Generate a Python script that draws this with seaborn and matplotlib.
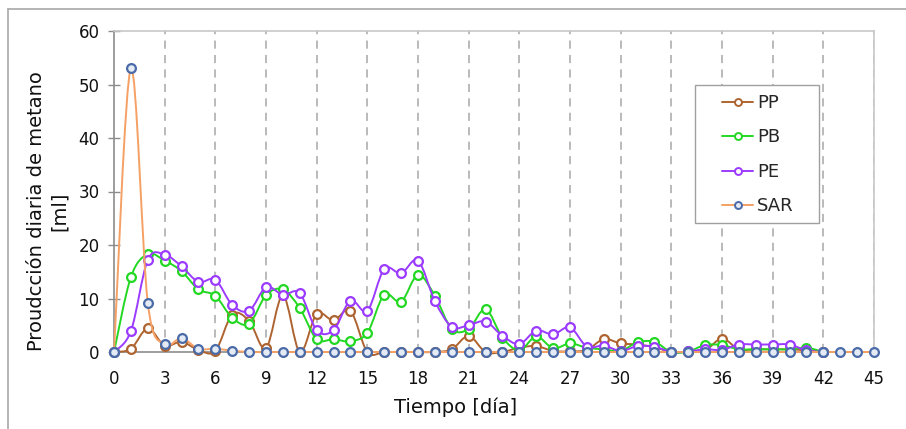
import numpy as np
import pandas as pd
import matplotlib
matplotlib.use("Agg")
import matplotlib.pyplot as plt
import seaborn as sns
from matplotlib.path import Path
from matplotlib.patches import PathPatch, Rectangle
from matplotlib.lines import Line2D

# ---------------- data ----------------
days_sar = list(range(0, 46))
days_p = list(range(0, 43))

pp = [0, 0.6, 4.4, 1.2, 1.9, 0.4, 0.2, 7.0, 5.8, 0.7, 10.6, 0, 7.1, 5.9, 7.7, 0,
      0, 0, 0, 0, 0.5, 3.0, 0, 0, 0.8, 1.1, 0.2, 0.1, 0.4, 2.4, 1.6, 1.4, 0.9, 0,
      0, 0.3, 2.5, 0.5, 0.5, 0.5, 0.5, 0.3, 0]
pb = [0, 14.0, 18.3, 17.1, 15.1, 11.7, 10.5, 6.4, 5.3, 10.6, 11.7, 8.2, 2.4, 2.4,
      2.0, 3.6, 10.7, 9.4, 14.4, 10.5, 4.3, 4.3, 8.0, 2.7, 0.3, 2.9, 0.7, 1.6, 0.8,
      0.5, 0.2, 1.8, 1.9, 0, 0.1, 1.3, 1.3, 0.5, 0.5, 0.5, 0.5, 0.8, 0]
pe = [0, 3.9, 17.2, 18.2, 16.0, 13.1, 13.5, 8.8, 7.7, 12.1, 10.7, 11.0, 4.1, 4.1,
      9.6, 7.7, 15.5, 14.7, 17.1, 9.5, 4.7, 5.0, 5.7, 3.0, 1.5, 4.0, 3.3, 4.6, 1.0,
      1.2, 0.2, 1.1, 1.0, 0, 0.1, 0.5, 0.4, 1.4, 1.4, 1.4, 1.4, 0.3, 0]
sar = [0, 53.0, 9.2, 1.5, 2.6, 0.6, 0.6, 0.25, 0] + [0] * 37

series_names = ["PP", "PB", "PE", "SAR"]
x_ticks = list(range(0, 46, 3))
y_ticks = list(range(0, 61, 10))

# styles
line_colors = {"PP": "#AE6430", "PB": "#22D822", "PE": "#9B3BFF", "SAR": "#F5A064"}
edge_colors = {"PP": "#AE6430", "PB": "#22D822", "PE": "#9B3BFF", "SAR": "#4A6BA8"}
face_colors = {"PP": "white", "PB": "white", "PE": "white", "SAR": "#E4EBF5"}

frames = []
for name, xs, ys in [("PP", days_p, pp), ("PB", days_p, pb),
                     ("PE", days_p, pe), ("SAR", days_sar, sar)]:
    frames.append(pd.DataFrame({"dia": xs, "valor": ys, "serie": name}))
df = pd.concat(frames, ignore_index=True)

# ---------------- figure ----------------
sns.set_theme(style="white")
plt.rcParams["font.family"] = ["DejaVu Sans"]

W, H = 906, 429
fig = plt.figure(figsize=(W / 100, H / 100), dpi=100)
ax = fig.add_axes([114 / W, 1 - 352 / H, (874 - 114) / W, (352 - 31) / H])


def smooth_path(xs, ys):
    """Excel-style smoothed line (Catmull-Rom as cubic Bezier) in data coords."""
    P = np.column_stack([xs, ys]).astype(float)
    n = len(P)
    verts = [P[0]]
    codes = [Path.MOVETO]
    for i in range(n - 1):
        p_prev = P[i - 1] if i > 0 else P[i]
        p_next2 = P[i + 2] if i + 2 < n else P[i + 1]
        c1 = P[i] + (P[i + 1] - p_prev) / 6.0
        c2 = P[i + 1] - (p_next2 - P[i]) / 6.0
        verts += [c1, c2, P[i + 1]]
        codes += [Path.CURVE4] * 3
    return Path(verts, codes)


for k, name in enumerate(series_names):
    sub = df[df["serie"] == name]
    patch = PathPatch(smooth_path(sub["dia"].values, sub["valor"].values),
                      facecolor="none", edgecolor=line_colors[name],
                      linewidth=1.4, zorder=3 + 2 * k, clip_on=False)
    ax.add_patch(patch)
    sns.scatterplot(data=sub, x="dia", y="valor", ax=ax, marker="o", s=40,
                    facecolor=face_colors[name], edgecolor=edge_colors[name],
                    linewidth=1.6, zorder=4 + 2 * k, legend=False, clip_on=False)

ax.set_xlim(0, 45)
ax.set_ylim(0, 60)
ax.set_xticks(x_ticks)
ax.set_yticks(y_ticks)
ax.set_xticklabels([str(t) for t in x_ticks])
ax.set_yticklabels([str(t) for t in y_ticks])
ax.set_xlabel("")
ax.set_ylabel("")

ax.tick_params(axis="x", length=0, pad=13, labelsize=12, colors="#111111")
ax.tick_params(axis="y", direction="inout", length=9, width=1, color="#8C8C8C",
               pad=6, labelsize=12, labelcolor="#111111", left=True)

# vertical dashed grid
for t in x_ticks[1:]:
    ax.axvline(t, color="#B4B4B4", linewidth=1.3, dashes=(4.5, 3.5), zorder=1)

for side in ["left", "bottom"]:
    ax.spines[side].set_color("#8C8C8C")
    ax.spines[side].set_linewidth(1.2)
for side in ["top", "right"]:
    ax.spines[side].set_color("#C8C8C8")
    ax.spines[side].set_linewidth(1.2)
ax.spines["bottom"].set_zorder(2)

# legend (frame drawn separately so inner padding can match)
fig.add_artist(Rectangle((695 / W, 1 - 223 / H), (819 - 695) / W, (223 - 85) / H,
                         transform=fig.transFigure, facecolor="white",
                         edgecolor="#A0A0A0", linewidth=1.0, zorder=19))
handles = [Line2D([0], [0], color=line_colors[n], linewidth=1.4, marker="o",
                  markersize=5, markerfacecolor=face_colors[n],
                  markeredgecolor=edge_colors[n], markeredgewidth=1.4)
           for n in series_names]
leg = fig.legend(handles, series_names, loc="upper left",
                 bbox_to_anchor=(722 / W, 1 - 94 / H),
                 bbox_transform=fig.transFigure, fontsize=13, frameon=False,
                 handlelength=1.72, handletextpad=0.22, labelspacing=0.91,
                 borderpad=0.0, borderaxespad=0.0)
leg.set_zorder(20)

# axis labels
fig.text(48 / W, 1 - 211 / H, "Proudcción diaria de metano\n[ml]", rotation=90,
         ha="center", va="center", multialignment="center", fontsize=14,
         color="#111111")
fig.text(456 / W, 1 - 407 / H, "Tiempo [día]", ha="center", va="center",
         fontsize=14, color="#111111")

# outer chart border (open at right/bottom)
fig.add_artist(Line2D([8 / W, 8 / W], [0, 1 - 9 / H], transform=fig.transFigure,
                      color="#A8A8A8", linewidth=1.2))
fig.add_artist(Line2D([8 / W, 1], [1 - 9 / H, 1 - 9 / H], transform=fig.transFigure,
                      color="#A8A8A8", linewidth=1.2))

fig.savefig("out.png", dpi=100)
